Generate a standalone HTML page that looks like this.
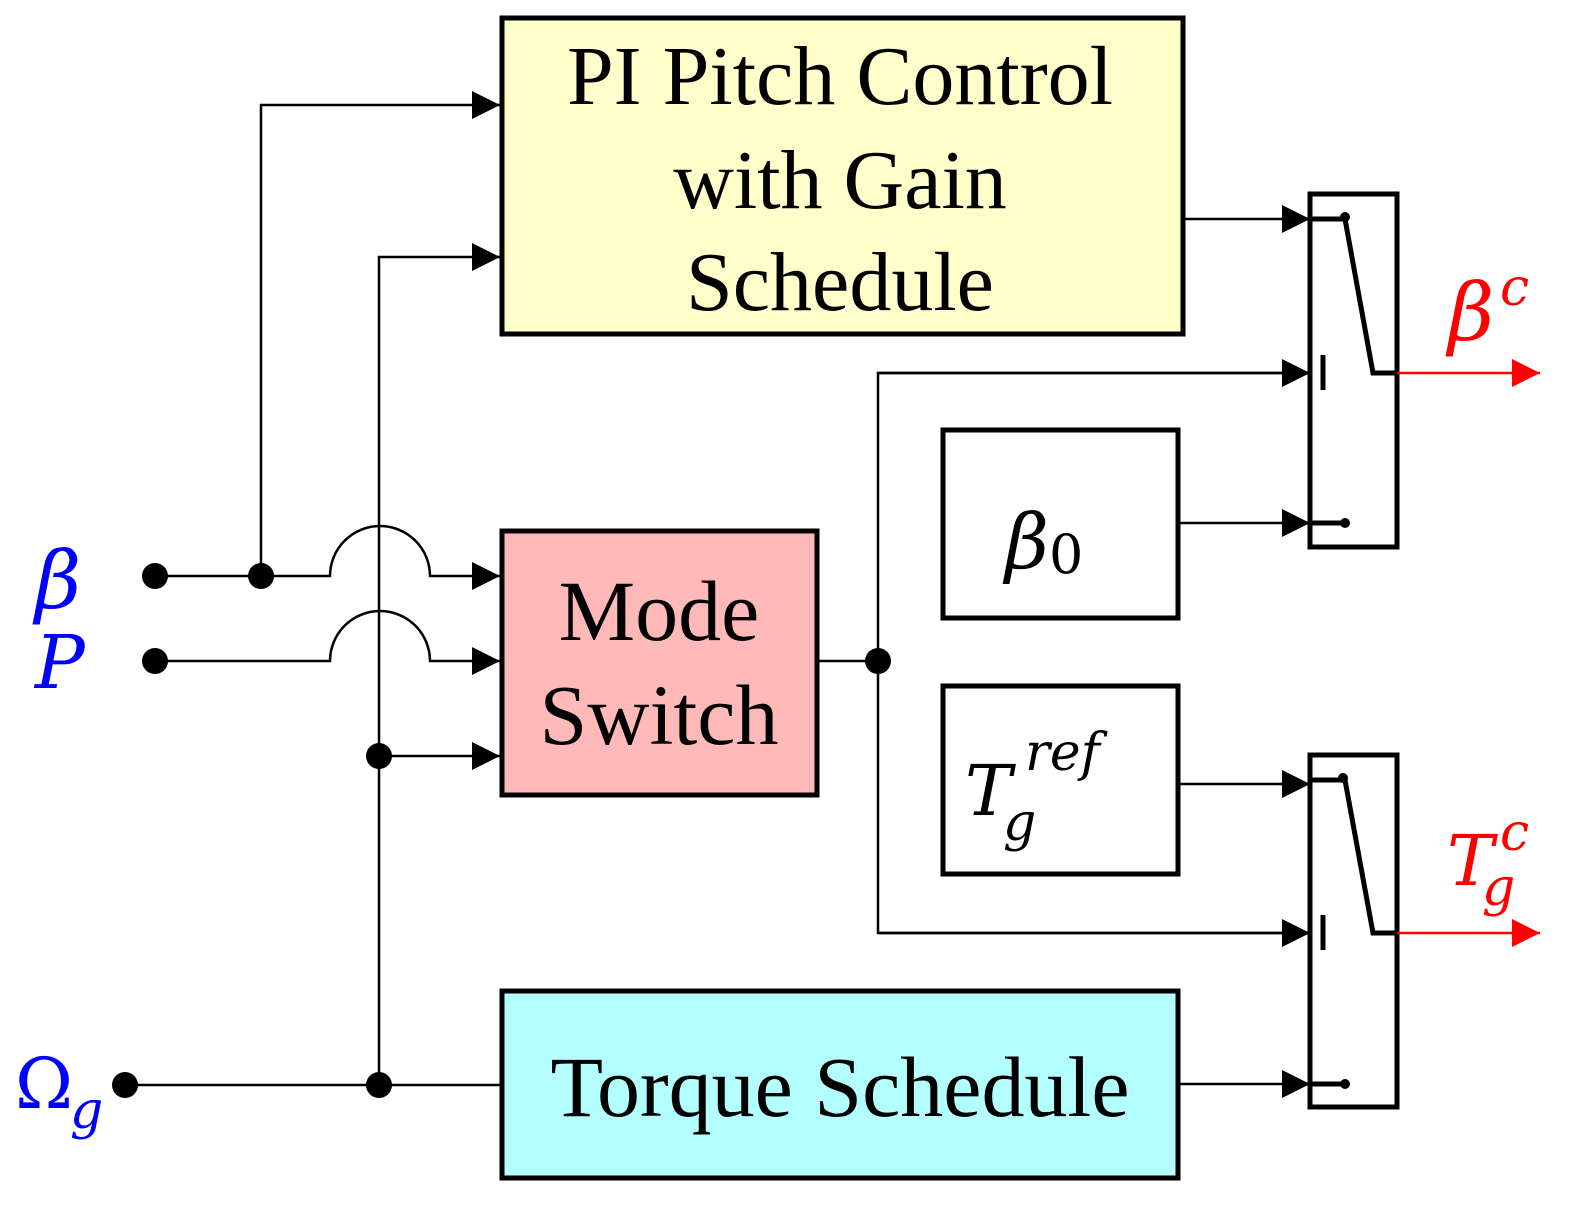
<!DOCTYPE html><html><head><style>body{margin:0;background:#fff}svg{display:block}</style></head><body>
<svg width="1595" height="1215" viewBox="0 0 1595 1215" xmlns="http://www.w3.org/2000/svg" font-family="Liberation Serif, serif">
<defs>
<marker id="ab" viewBox="0 0 10 10" refX="10" refY="5" markerWidth="28" markerHeight="28" orient="auto" markerUnits="userSpaceOnUse"><path d="M0,0L10,5L0,10z" fill="#000"/></marker>
<marker id="ar" viewBox="0 0 10 10" refX="10" refY="5" markerWidth="28" markerHeight="28" orient="auto" markerUnits="userSpaceOnUse"><path d="M0,0L10,5L0,10z" fill="red"/></marker></defs>
<g stroke="#000" stroke-width="5">
<rect x="502" y="18" width="681" height="316" fill="#ffffcc"/>
<rect x="502" y="531" width="315" height="264" fill="#ffb9b9"/>
<rect x="502" y="991" width="676" height="187" fill="#b3ffff"/>
<rect x="943" y="430" width="235" height="188" fill="#fff"/>
<rect x="943" y="686" width="235" height="188" fill="#fff"/>
<rect x="1310" y="194" width="87" height="353" fill="none"/>
<rect x="1310" y="755" width="87" height="352" fill="none"/>
</g>
<g stroke="#000" stroke-width="2.5" fill="none">
<path d="M155,576H330A50,50 0 0 1 430,576H500" marker-end="url(#ab)"/>
<path d="M155,661H330A50,50 0 0 1 430,661H500" marker-end="url(#ab)"/>
<path d="M261,576V105H500" marker-end="url(#ab)"/>
<path d="M379,1085V257H500" marker-end="url(#ab)"/>
<path d="M379,756H500" marker-end="url(#ab)"/>
<path d="M125,1085H502"/>
<path d="M817,661H878"/>
<path d="M1310,373H878V933H1310"/>
<path d="M878,373H1310" marker-end="url(#ab)"/>
<path d="M878,933H1310" marker-end="url(#ab)"/>
<path d="M1183,219H1310" marker-end="url(#ab)"/>
<path d="M1178,523H1310" marker-end="url(#ab)"/>
<path d="M1178,784H1310" marker-end="url(#ab)"/>
<path d="M1178,1084H1310" marker-end="url(#ab)"/>
</g>
<g stroke="#000" stroke-width="5" fill="none">
<path d="M1310,219H1345L1373,373H1397"/><path d="M1310,523H1345"/><path d="M1323,355V390"/>
<path d="M1310,780H1345L1373,933H1397"/><path d="M1310,1084H1345"/><path d="M1323,915V950"/>
</g>
<g fill="#000"><circle cx="1345" cy="217" r="5"/><circle cx="1345" cy="523" r="5"/><circle cx="1343" cy="778" r="5"/><circle cx="1345" cy="1084" r="5"/>
<circle cx="155" cy="576" r="13"/><circle cx="261" cy="576" r="13"/><circle cx="155" cy="661" r="13"/><circle cx="125" cy="1085" r="13"/><circle cx="379" cy="1085" r="13"/><circle cx="379" cy="756" r="13"/><circle cx="878" cy="661" r="13"/></g>
<g stroke="red" stroke-width="2.5"><path d="M1397,373H1540" marker-end="url(#ar)"/><path d="M1397,933H1540" marker-end="url(#ar)"/></g>
<g text-anchor="middle" fill="#000">
<text x="840" y="104" font-size="84">PI Pitch Control</text><text x="840" y="208" font-size="84">with Gain</text><text x="840" y="310" font-size="84">Schedule</text>
<text x="659" y="640" font-size="86">Mode</text><text x="659" y="744" font-size="86">Switch</text>
<text x="840" y="1116" font-size="86">Torque Schedule</text>
</g>
<g font-style="italic" font-family="DejaVu Serif, serif">
<text x="1005" y="568" font-size="76">β<tspan font-style="normal" font-size="54" dy="5">0</tspan></text>
<text x="965" y="815" font-size="70">T</text><text x="1003" y="840" font-size="52">g</text><text x="1025" y="770" font-size="52">ref</text>
<text x="35" y="608" font-size="80" fill="blue">β</text><text x="35" y="688" font-size="74" fill="blue">P</text>
<text x="15" y="1108" font-size="70" fill="blue" font-style="normal">Ω</text><text x="70" y="1128" font-size="52" fill="blue">g</text>
<text x="1448" y="340" font-size="80" fill="red">β</text><text x="1500" y="305" font-size="52" fill="red">c</text>
<text x="1447" y="885" font-size="70" fill="red">T</text><text x="1482" y="905" font-size="52" fill="red">g</text><text x="1500" y="850" font-size="52" fill="red">c</text>
</g>
</svg></body></html>
